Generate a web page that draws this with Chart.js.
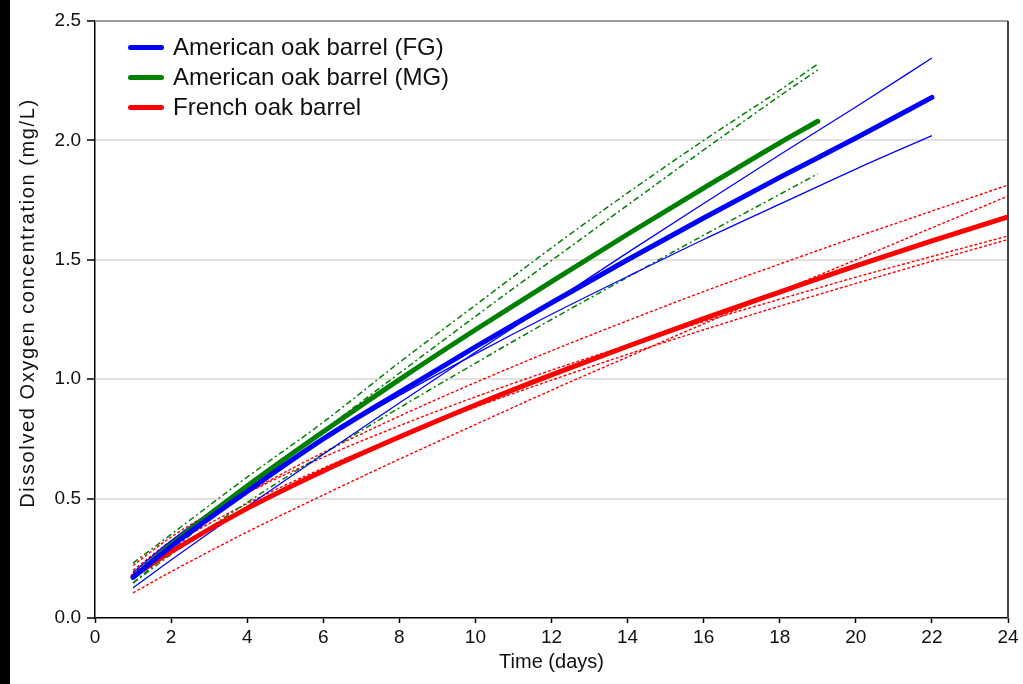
<!DOCTYPE html>
<html>
<head>
<meta charset="utf-8">
<script src="https://cdn.jsdelivr.net/npm/chart.js@4/dist/chart.umd.min.js"></script>
<style>
    html, body { margin: 0; padding: 0; background: #fff; }
    body { width: 1023px; height: 684px; position: relative; overflow: hidden; font-family: "Liberation Sans", Arial, sans-serif; }
    .strip { position: absolute; left: 0; top: 0; width: 10px; height: 684px; background: #000; }
    .chart-box { position: absolute; left: 10px; top: 0; width: 1013px; height: 684px; }
    .legend { position: absolute; left: 128px; top: 32px; }
    .legend-item { display: flex; align-items: center; height: 30px; }
    .legend-color { width: 36px; height: 5px; border-radius: 3px; margin-right: 9px; }
    .legend-label { font-size: 24px; color: #111; line-height: 30px; }
</style>
</head>
<body>
<div class="strip"></div>
<div class="chart-box"><canvas id="oxygenChart" width="1013" height="684"></canvas></div>
<div class="legend" id="oxygenLegend"></div>
<script>
// Days sampled per barrel group
const fgDays = [1, 2, 4, 6, 8, 10, 12, 14, 16, 18, 20, 22];
const mgDays = [1, 2, 4, 6, 8, 10, 12, 14, 16, 18, 19];
const frDays = [1, 2, 4, 6, 8, 10, 12, 14, 16, 18, 20, 22, 24];

// American oak barrel (FG): mean + individual barrels
const fgMean = [0.17, 0.30, 0.53, 0.75, 0.945, 1.135, 1.32, 1.50, 1.675, 1.845, 2.01, 2.18];
const fgBarrelA = [0.126, 0.243, 0.467, 0.686, 0.90, 1.113, 1.32, 1.53, 1.736, 1.94, 2.14, 2.345];
const fgBarrelB = [0.19, 0.323, 0.549, 0.748, 0.932, 1.106, 1.272, 1.43, 1.585, 1.733, 1.88, 2.02];

// American oak barrel (MG)
const mgMean = [0.17, 0.307, 0.553, 0.78, 0.998, 1.207, 1.409, 1.607, 1.80, 1.99, 2.08];
const mgBarrelA = [0.23, 0.35, 0.59, 0.82, 1.07, 1.31, 1.55, 1.78, 2.0, 2.21, 2.32];
const mgBarrelB = [0.147, 0.281, 0.537, 0.784, 1.025, 1.263, 1.497, 1.729, 1.96, 2.186, 2.295];
const mgBarrelC = [0.146, 0.266, 0.484, 0.687, 0.88, 1.067, 1.25, 1.427, 1.603, 1.774, 1.86];

// French oak barrel
const frMean = [0.175, 0.278, 0.459, 0.616, 0.758, 0.892, 1.018, 1.138, 1.254, 1.365, 1.475, 1.579, 1.68];
const frBarrelA = [0.2, 0.323, 0.523, 0.693, 0.845, 0.986, 1.119, 1.245, 1.367, 1.482, 1.595, 1.704, 1.813];
const frBarrelB = [0.105, 0.194, 0.36, 0.515, 0.665, 0.81, 0.954, 1.093, 1.232, 1.367, 1.50, 1.634, 1.767];
const frBarrelC = [0.22, 0.339, 0.523, 0.673, 0.805, 0.926, 1.038, 1.142, 1.241, 1.335, 1.427, 1.514, 1.60];
const frBarrelD = [0.19, 0.302, 0.479, 0.628, 0.76, 0.883, 0.996, 1.104, 1.207, 1.306, 1.401, 1.494, 1.585];

const xTicks = [0, 2, 4, 6, 8, 10, 12, 14, 16, 18, 20, 22, 24];
const yTicks = [0, 0.5, 1.0, 1.5, 2.0, 2.5];
const yTitle = 'Dissolved Oxygen concentration (mg/L)';

const BLUE = '#0000FF';
const GREEN = '#008000';
const RED = '#FF0000';
const FONT = '"Liberation Sans", Arial, sans-serif';

function pts(days, vals) {
    return days.map((d, i) => ({ x: d, y: vals[i] }));
}

function meanLine(label, days, vals, color, order) {
    return {
        label: label,
        data: pts(days, vals),
        borderColor: color,
        backgroundColor: color,
        borderWidth: 5,
        pointRadius: 0,
        cubicInterpolationMode: 'monotone',
        borderCapStyle: 'round',
        order: order,
        isMean: true
    };
}

function barrelLine(days, vals, color, dash, width) {
    return {
        label: '',
        data: pts(days, vals),
        borderColor: color,
        borderWidth: width,
        borderDash: dash,
        pointRadius: 0,
        cubicInterpolationMode: 'monotone',
        order: 5
    };
}

const datasets = [
    meanLine('American oak barrel (FG)', fgDays, fgMean, BLUE, 0),
    meanLine('American oak barrel (MG)', mgDays, mgMean, GREEN, 1),
    meanLine('French oak barrel', frDays, frMean, RED, 2),
    barrelLine(fgDays, fgBarrelA, BLUE, [], 1.3),
    barrelLine(fgDays, fgBarrelB, BLUE, [], 1.3),
    barrelLine(mgDays, mgBarrelA, GREEN, [6, 3, 2, 3], 1.5),
    barrelLine(mgDays, mgBarrelB, GREEN, [6, 3, 2, 3], 1.5),
    barrelLine(mgDays, mgBarrelC, GREEN, [6, 3, 2, 3], 1.5),
    barrelLine(frDays, frBarrelA, RED, [3, 2], 1.4),
    barrelLine(frDays, frBarrelB, RED, [3, 2], 1.4),
    barrelLine(frDays, frBarrelC, RED, [3, 2], 1.4),
    barrelLine(frDays, frBarrelD, RED, [3, 2], 1.4)
];

// top and right frame of the plot box, plus the y axis title
const frameLines = {
    id: 'frameLines',
    afterDraw(chart) {
        const { ctx, chartArea: a } = chart;
        ctx.save();
        ctx.lineWidth = 2;
        ctx.strokeStyle = '#9a9a9a';
        ctx.beginPath();
        ctx.moveTo(a.left, a.top);
        ctx.lineTo(a.right, a.top);
        ctx.stroke();
        ctx.strokeStyle = '#444';
        ctx.beginPath();
        ctx.moveTo(a.right, a.top);
        ctx.lineTo(a.right, a.bottom);
        ctx.stroke();

        ctx.translate(18, 303);
        ctx.rotate(-Math.PI / 2);
        ctx.font = '20px ' + FONT;
        ctx.letterSpacing = '1.6px';
        ctx.fillStyle = '#111';
        ctx.textAlign = 'center';
        ctx.textBaseline = 'middle';
        ctx.fillText(yTitle, 0, 0);
        ctx.restore();
    }
};

const tickFont = { family: FONT, size: 19 };

new Chart(document.getElementById('oxygenChart').getContext('2d'), {
    type: 'line',
    data: { datasets: datasets },
    options: {
        responsive: false,
        animation: false,
        layout: { padding: { top: 21, right: 15, bottom: 0, left: 0 } },
        plugins: {
            legend: { display: false },
            tooltip: { enabled: false }
        },
        scales: {
            x: {
                type: 'linear',
                min: 0,
                max: 24,
                afterBuildTicks: s => { s.ticks = xTicks.map(v => ({ value: v })); },
                afterFit: s => { s.height = 66; },
                ticks: { font: tickFont, color: '#111', padding: 3, maxRotation: 0 },
                grid: { drawOnChartArea: false, tickLength: 5, tickColor: '#000', tickWidth: 1.5 },
                border: { color: '#000', width: 1.5 },
                title: {
                    display: true,
                    text: 'Time (days)',
                    color: '#111',
                    font: { family: FONT, size: 20 },
                    padding: { top: 0, bottom: 10 }
                }
            },
            y: {
                min: 0,
                max: 2.5,
                afterBuildTicks: s => { s.ticks = yTicks.map(v => ({ value: v })); },
                afterFit: s => { s.width = 85; },
                ticks: { font: tickFont, color: '#111', padding: 6, callback: v => v.toFixed(1) },
                grid: {
                    tickLength: 8,
                    tickColor: '#000',
                    tickWidth: 1.5,
                    lineWidth: 2,
                    color: c => (c.tick && (c.tick.value === 0 || c.tick.value === 2.5)) ? 'rgba(0,0,0,0)' : '#e2e2e2'
                },
                border: { color: '#000', width: 1.5 },
                title: { display: false }
            }
        }
    },
    plugins: [frameLines]
});

// custom legend for the three mean curves
const legendBox = document.getElementById('oxygenLegend');
legendBox.innerHTML = datasets.filter(d => d.isMean).map(d => `
    <div class="legend-item">
        <div class="legend-color" style="background: ${d.borderColor}"></div>
        <span class="legend-label">${d.label}</span>
    </div>
`).join('');
</script>
</body>
</html>
